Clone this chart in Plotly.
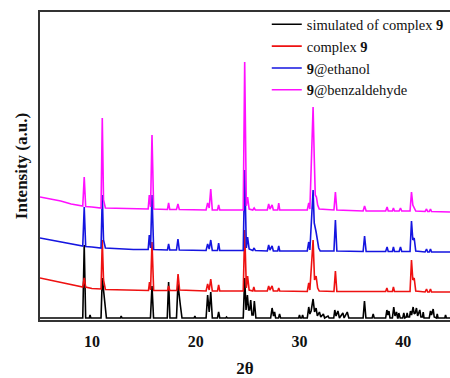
import plotly.graph_objects as go

# ---- data (2θ in degrees, intensity in arbitrary units, stacked) ----
names = ["simulated of complex <b>9</b>", "complex <b>9</b>", "<b>9</b>@ethanol", "<b>9</b>@benzaldehyde"]
colors = ["#000000", "#ee1111", "#1515e0", "#ff10ff"]

sim_pts = [(5.0,2),(9.12,2),(9.26,75),(9.4,2),(9.75,2),(9.82,5),(9.9,2),
    (10.88,2),(11.0,42),(11.1,30),(11.2,22),(11.4,2),
    (12.75,2),(12.82,4),(12.9,2),
    (15.64,2),(15.79,34),(15.94,2),
    (17.26,2),(17.39,38),(17.52,2),
    (18.15,2),(18.29,36),(18.42,22),(18.52,15),(18.68,2),
    (19.85,2),(19.92,4),(20.0,2),
    (21.0,2),(21.15,25),(21.3,8),(21.45,28),(21.6,2),
    (22.1,2),(22.21,8),(22.32,2),
    (22.9,2),(22.97,3),(23.05,2),
    (24.58,2),(24.72,42),(24.85,10),(24.98,25),(25.1,10),(25.2,10),(25.3,20),(25.42,5),(25.55,5),(25.65,19),(25.8,2),
    (27.22,2),(27.36,12),(27.5,4),(27.6,8),(27.7,2),(27.98,2),(28.08,6),(28.18,2),
    (29.92,2),(30.0,5),(30.08,2),(30.22,2),(30.3,5),(30.38,2),
    (30.75,2),(30.89,13),(31.0,6),(31.12,9),(31.31,21),(31.45,8),(31.6,12),(31.72,4),(31.92,8),(32.05,3),(32.3,6),(32.42,2),(32.75,4),(32.85,2),
    (33.3,2),(33.4,10),(33.52,4),(33.7,9),(33.85,2),(34.18,7),(34.3,2),(34.6,8),(34.75,2),
    (36.13,2),(36.26,19),(36.4,2),
    (37.0,2),(37.1,6),(37.2,2),
    (38.3,2),(38.42,10),(38.52,5),(38.62,9),(38.72,2),(38.95,2),(39.08,13),(39.2,4),(39.35,8),(39.45,2),(39.5,2),(39.57,7),(39.7,2),
    (39.95,2),(40.05,7),(40.15,2),(40.3,3),(40.37,7),(40.45,3),(40.6,3),(40.69,9),(40.8,5),(40.95,13),(41.05,6),(41.15,7),(41.27,12),(41.38,4),(41.59,10),(41.7,3),(41.85,3),(41.92,8),(42.0,2),
    (42.5,2),(42.62,9),(42.72,5),(42.88,11),(42.98,3),(43.2,2),(43.27,6),(43.35,2),
    (44.0,2),(44.07,5),(44.15,2),(44.5,2)]

complex_pts = [(5.0,42),(6.0,40),(7.0,38),(8.0,35.5),(9.12,33),(9.26,42),(9.4,33),(10.0,31.5),
    (10.88,31),(11.0,80),(11.12,40),(11.3,30.5),
    (12.5,30),(15.0,29.5),(15.45,29.5),(15.55,38),(15.65,30),(15.79,78),(15.95,29.5),
    (17.3,29.5),(17.39,34),(17.5,29.5),
    (18.18,29.5),(18.3,46),(18.45,30),
    (21.0,29),(21.15,36),(21.3,30),(21.45,41),(21.6,29),
    (22.1,29),(22.21,35),(22.32,29),
    (24.58,29),(24.72,90),(24.88,32),(25.0,44),(25.15,30),(25.5,29),(25.6,33),(25.7,29),
    (26.9,29),(27.03,34),(27.15,30),(27.36,34),(27.48,29),(27.9,29),(28.0,32),(28.1,29),
    (30.75,28.5),(30.89,37),(31.0,30),(31.31,80),(31.45,40),(31.6,44),(31.75,32),(31.9,29),
    (33.32,28.5),(33.46,49),(33.6,28.5),
    (38.3,28.5),(38.42,32),(38.52,28.5),(38.95,28.5),(39.05,33),(39.15,28.5),
    (40.65,28.5),(40.79,60),(40.92,40),(41.05,42),(41.2,29),
    (42.1,28),(42.24,31),(42.35,28),(42.5,28),(42.62,31),(42.72,28),(44.5,28)]

ethanol_pts = [(5.0,82),(6.0,80),(7.0,78),(8.0,76),(9.12,74),(9.26,113),(9.4,73.5),(10.0,73),
    (10.88,72),(11.0,125),(11.12,80),(11.3,72),
    (14.0,70.5),(15.42,70.5),(15.53,85),(15.65,72),(15.79,125),(15.95,70.5),
    (17.28,70),(17.39,76),(17.5,70),
    (18.15,70),(18.29,81),(18.42,70),
    (21.0,69.5),(21.15,76),(21.3,71),(21.45,80),(21.6,69.5),
    (22.1,69.5),(22.21,77),(22.32,69.5),
    (24.58,69.5),(24.72,150),(24.88,72),(25.0,83),(25.15,71),(25.5,69.5),(25.63,72),(25.75,69.5),
    (26.9,69),(27.03,75),(27.15,70),(27.36,74),(27.48,69),(27.9,69),(28.0,74),(28.1,69),
    (30.75,69),(30.89,78),(31.0,70),(31.31,130),(31.42,97),(31.6,88),(31.72,80),(31.85,72),(32.0,69),
    (33.32,69),(33.46,100),(33.6,69),
    (36.13,68.5),(36.27,84),(36.42,68.5),
    (38.3,68.5),(38.44,73),(38.55,68.5),(38.95,68.5),(39.05,73),(39.15,68.5),(39.6,68.5),(39.73,73),(39.85,68.5),
    (40.65,68.5),(40.79,99),(40.92,80),(41.05,82),(41.2,69),
    (42.1,68),(42.24,71),(42.35,68),(42.5,68),(42.62,71),(42.72,68),(44.5,68)]

benzaldehyde_pts = [(5.0,123),(6.0,121),(7.0,119),(8.0,116),(9.12,114),(9.26,143),(9.4,113.5),(10.0,113),
    (10.88,112),(11.0,202),(11.12,120),(11.3,112),
    (14.0,111),(15.42,111),(15.53,125),(15.65,113),(15.79,185),(15.95,111),
    (17.28,110.5),(17.39,117),(17.5,110.5),
    (18.15,110.5),(18.29,116),(18.42,110.5),
    (21.0,110),(21.15,117),(21.3,112),(21.45,131),(21.6,110),
    (22.1,110),(22.21,115),(22.32,110),
    (24.58,110),(24.72,258),(24.88,114),(25.0,123),(25.15,111),(25.5,110),(25.63,112),(25.75,110),
    (26.9,110),(27.03,116),(27.15,111),(27.36,115),(27.48,110),(27.9,110),(28.0,117),(28.1,110),
    (30.75,110),(30.89,117),(31.0,111),(31.31,213),(31.42,163),(31.52,125),(31.63,123),(31.75,115),(31.9,111),
    (33.32,110),(33.46,128),(33.6,110),
    (36.13,109),(36.27,114),(36.42,109),
    (38.3,109),(38.44,113),(38.55,109),(38.95,109),(39.05,112),(39.15,109),(39.6,109),(39.73,112),(39.85,109),
    (40.65,109),(40.79,128),(40.92,115),(41.05,112),(41.2,109),
    (42.1,108.5),(42.24,111),(42.35,108.5),(42.5,108.5),(42.62,111),(42.72,108.5),(44.5,108)]

x_ticks = [10, 20, 30, 40]

series = [sim_pts, complex_pts, ethanol_pts, benzaldehyde_pts]

fig = go.Figure()
for name, color, pts in zip(names, colors, series):
    xs = [p[0] for p in pts]
    ys = [p[1] for p in pts]
    fig.add_trace(go.Scatter(x=xs, y=ys, mode="lines", name=name,
                             line=dict(color=color, width=1.6)))

serif = "Times New Roman, Liberation Serif, DejaVu Serif, serif"
fig.update_layout(
    width=450, height=378,
    margin=dict(l=40, r=0, t=12, b=58),
    paper_bgcolor="white", plot_bgcolor="white",
    font=dict(family=serif, color="#111111"),
    showlegend=True,
    legend=dict(x=0.997, xanchor="right", y=1.012, yanchor="top",
                bgcolor="rgba(0,0,0,0)", font=dict(family=serif, size=14.5, color="#111111"),
                tracegroupgap=0, itemwidth=30),
    xaxis=dict(range=[5, 44.5], tickvals=x_ticks, ticktext=[f"<b>{t}</b>" for t in x_ticks],
               showline=True, linecolor="#333333", linewidth=1.5, mirror=True,
               showgrid=False, zeroline=False, ticks="", ticklabelstandoff=6,
               tickfont=dict(family=serif, size=16, color="#111111"),
               title=dict(text="<b>2θ</b>", font=dict(family=serif, size=17, color="#111111"), standoff=14)),
    yaxis=dict(range=[0, 308], showticklabels=False, ticks="",
               showline=True, linecolor="#333333", linewidth=1.5, mirror=False,
               showgrid=False, zeroline=False,
               title=dict(text="<b>Intensity (a.u.)</b>", font=dict(family=serif, size=17, color="#111111"), standoff=6)),
)

fig.write_html("out.html")
